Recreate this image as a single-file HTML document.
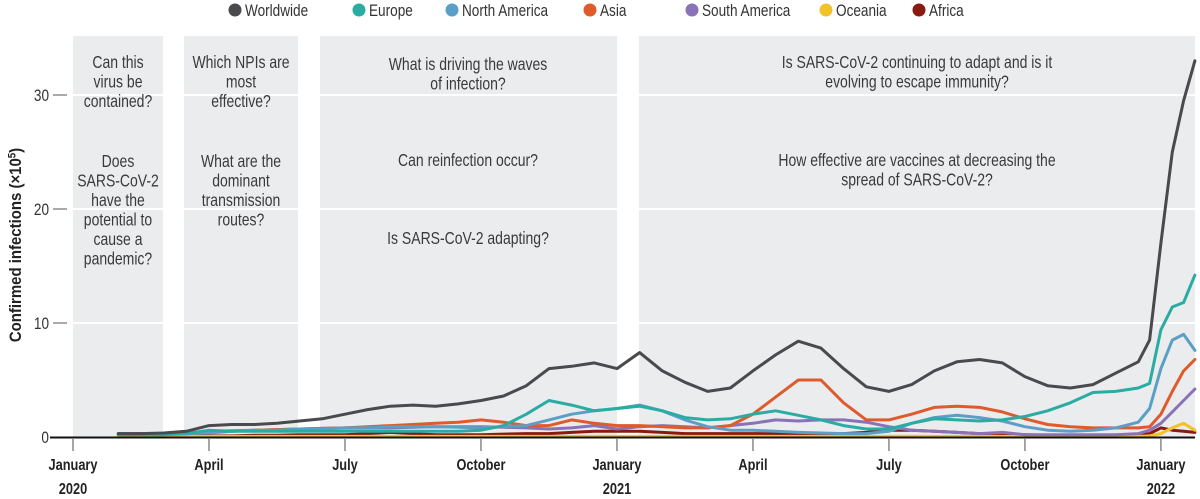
<!DOCTYPE html>
<html><head><meta charset="utf-8"><style>
body{margin:0;background:#fff;}
svg{display:block;font-family:"Liberation Sans Narrow","Liberation Sans",sans-serif;}
.q{font-size:17.5px;fill:#3a3a3a;text-anchor:middle;}
.xl{font-size:16px;font-weight:bold;fill:#222;text-anchor:middle;}
.yl{font-size:17px;fill:#333;text-anchor:end;}
.lg{font-size:17px;fill:#333;}
</style></head><body>
<svg id="chart" width="1200" height="499">
<g id="panels"></g><g id="grid"></g><g id="texts"></g><g id="lines"></g><g id="axes"></g><g id="legend"></g>
</svg>
<script>
const months=[1,1.5,2,2.5,3,3.5,4,4.5,5,5.5,6,6.5,7,7.5,8,8.5,9,9.5,10,10.5,11,11.5,12,12.5,13,13.5,14,14.5,15,15.5,16,16.5,17,17.5,18,18.5,19,19.5,20,20.5,21,21.5,22,22.5,23,23.5,23.75,24,24.25,24.5,24.75];
const worldwide=[.3,.3,.35,.5,1.0,1.1,1.1,1.2,1.4,1.6,2.0,2.4,2.7,2.8,2.7,2.9,3.2,3.6,4.5,6.0,6.2,6.5,6.0,7.4,5.8,4.8,4.0,4.3,5.8,7.2,8.4,7.8,6.0,4.4,4.0,4.6,5.8,6.6,6.8,6.5,5.3,4.5,4.3,4.6,5.6,6.6,8.5,17,25,29.5,33];
const europe=[.2,.2,.2,.3,.6,.5,.5,.5,.5,.5,.5,.5,.5,.5,.5,.5,.6,1.0,2.0,3.2,2.8,2.3,2.5,2.7,2.3,1.7,1.5,1.6,2.0,2.3,1.9,1.5,1.0,.7,.7,1.2,1.6,1.5,1.4,1.5,1.8,2.3,3.0,3.9,4.0,4.3,4.7,9.4,11.4,11.8,14.2];
const northAmerica=[.3,.3,.3,.3,.35,.5,.6,.6,.7,.7,.8,.8,.9,.9,.9,.85,.8,.9,1.0,1.5,2.0,2.3,2.5,2.8,2.3,1.5,.9,.6,.6,.5,.4,.35,.3,.3,.5,1.2,1.7,1.9,1.7,1.4,.9,.6,.5,.6,.8,1.3,2.5,6,8.5,9.0,7.6];
const asia=[.3,.3,.3,.35,.5,.55,.6,.65,.7,.75,.8,.9,1.0,1.1,1.2,1.3,1.5,1.3,1.0,1.0,1.5,1.2,1.0,1.0,.9,.8,.8,1.0,2.0,3.5,5.0,5.0,3.0,1.5,1.5,2.0,2.6,2.7,2.6,2.2,1.6,1.1,.9,.8,.8,.8,.9,2,4,5.8,6.8];
const southAmerica=[.3,.3,.3,.3,.4,.5,.6,.65,.7,.75,.8,.8,.8,.85,.9,.9,.9,.85,.8,.7,.8,1.0,.7,.9,1.0,.9,.8,1.0,1.2,1.5,1.4,1.5,1.5,1.3,.9,.6,.5,.4,.3,.4,.2,.2,.2,.2,.2,.3,.6,1.2,2.2,3.2,4.2];
const oceania=[.05,.05,.05,.05,.05,.05,.05,.05,.05,.05,.05,.05,.05,.05,.05,.05,.05,.05,.05,.05,.05,.05,.05,.05,.05,.05,.05,.05,.05,.05,.05,.05,.05,.05,.05,.05,.05,.05,.05,.05,.05,.05,.05,.05,.05,.05,.1,.3,.8,1.2,.6];
const africa=[.1,.1,.1,.1,.1,.1,.15,.15,.2,.2,.2,.3,.4,.3,.2,.2,.2,.25,.3,.3,.4,.5,.5,.5,.4,.3,.3,.3,.3,.3,.3,.3,.3,.4,.6,.6,.5,.4,.3,.2,.2,.15,.1,.1,.1,.2,.3,.8,.6,.5,.4];
const seriesNames=["Worldwide","Europe","North America","Asia","South America","Oceania","Africa"];
const yTicks=[0,10,20,30];
const xTickMonths=[0,3,6,9,12,15,18,21,24];
const xTickLabels=["January","April","July","October","January","April","July","October","January"];
const xTickYears=["2020","","","","2021","","","","2022"];

const NS="http://www.w3.org/2000/svg";
const X=m=>73+45.33*m;
const Y=v=>437-11.4*v;
const SX=0.8;
function mk(tag,attrs,parent,text){const e=document.createElementNS(NS,tag);for(const k in attrs)e.setAttribute(k,attrs[k]);if(text!==undefined)e.textContent=text;parent.appendChild(e);return e;}
function nt(x,y,cls,parent,text){return mk('text',{x:0,y:0,class:cls,transform:'translate('+x+','+y+') scale('+SX+',1)'},parent,text);}
const gP=document.getElementById('panels'),gG=document.getElementById('grid'),gT=document.getElementById('texts'),gL=document.getElementById('lines'),gA=document.getElementById('axes'),gLg=document.getElementById('legend');

const pxBounds=[[73,163],[184,298],[320,617],[639,1195]];
pxBounds.forEach((b,i)=>{
  const r=mk('rect',{x:b[0],y:36,width:b[1]-b[0],height:401,fill:'#ebecee'},gP);
  
  
});
yTicks.forEach(v=>{
  if(v===0)return;
  const l=mk('line',{x1:70,x2:1195,y1:Y(v),y2:Y(v),stroke:'#fff','stroke-width':2},gG);
  
  
  const d=mk('line',{x1:53,x2:67,y1:Y(v),y2:Y(v),stroke:'#555','stroke-width':1},gA);
  
  
});
yTicks.forEach(v=>{
  const t=nt(49,Y(v)+6,'yl',gA,String(v));
  
  
});
const yt=mk('text',{transform:'translate(21,245) rotate(-90) scale(0.88,1)','text-anchor':'middle','font-size':'17','font-weight':'bold',fill:'#222'},gA);
yt.innerHTML='Confirmed infections (×10<tspan baseline-shift="super" font-size="11">5</tspan>)';



const qs=[
 [118,68,["Can this","virus be","contained?"]],
 [118,167,["Does","SARS-CoV-2","have the","potential to","cause a","pandemic?"]],
 [241,68,["Which NPIs are","most","effective?"]],
 [241,167,["What are the","dominant","transmission","routes?"]],
 [468,70,["What is driving the waves","of infection?"]],
 [468,166,["Can reinfection occur?"]],
 [468,244,["Is SARS-CoV-2 adapting?"]],
 [917,68,["Is SARS-CoV-2 continuing to adapt and is it","evolving to escape immunity?"]],
 [917,166,["How effective are vaccines at decreasing the","spread of SARS-CoV-2?"]]
];
qs.forEach((q,i)=>{q[2].forEach((s,j)=>{
  const t=nt(q[0],q[1]+j*19.5,'q',gT,s);
  
  
});});

const colors=["#4a4a4e","#2aaca3","#5b9fc6","#df5a2c","#8a72b9","#f0c22c","#8a1a0f"];
const data=[worldwide,europe,northAmerica,asia,southAmerica,oceania,africa];
const order=[6,5,4,3,2,1,0];
order.forEach(i=>{
  const d=data[i].map((v,k)=>(k?'L':'M')+X(months[k]).toFixed(1)+','+Y(v).toFixed(1)).join('');
  const p=mk('path',{d:d,fill:'none',stroke:colors[i],'stroke-width':3,'stroke-linejoin':'round','stroke-linecap':'round'},gL);
  
  
});

const ax=mk('line',{x1:50,x2:1195,y1:437.5,y2:437.5,stroke:'#111','stroke-width':2},gA);


xTickMonths.forEach((m,i)=>{
  const l=mk('line',{x1:X(m),x2:X(m),y1:439,y2:451,stroke:'#888','stroke-width':1.5},gA);
  
  
  const t=nt(X(m),470,'xl',gA,xTickLabels[i]);
  
  
  if(xTickYears[i]){
    const y=nt(X(m),494,'xl',gA,xTickYears[i]);
    
    
  }
});

const lgX=[235,359,452,590,692,826,919];
seriesNames.forEach((n,i)=>{
  const g=mk('g',{},gLg);
  
  
  mk('circle',{cx:lgX[i],cy:10,r:6.5,fill:colors[i]},g);
  nt(lgX[i]+10,16,'lg',g,n);
});
</script>
</body></html>
